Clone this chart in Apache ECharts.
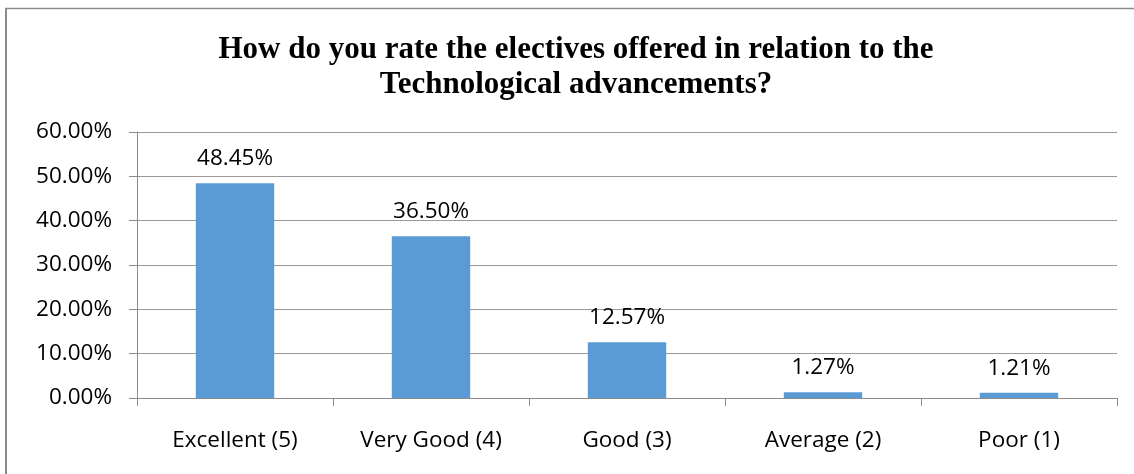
<!DOCTYPE html>
<html>
<head>
<meta charset="utf-8">
<script src="https://cdn.jsdelivr.net/npm/echarts@6/dist/echarts.min.js"></script>
<style>
html,body{margin:0;padding:0;background:#fff;}
#c{width:1134px;height:474px;}
</style>
</head>
<body>
<div id="c"></div>
<script>
const titleText = 'How do you rate the electives offered in relation to the\nTechnological advancements?';
const categories = ['Excellent (5)', 'Very Good (4)', 'Good (3)', 'Average (2)', 'Poor (1)'];
const values = [48.45, 36.50, 12.57, 1.27, 1.21];
const yTicks = [0, 10, 20, 30, 40, 50, 60];

const chart = echarts.init(document.getElementById('c'), null, {renderer: 'canvas'});
const sans = '"Open Sans", "Noto Sans", sans-serif';
chart.setOption({
  animation: false,
  backgroundColor: '#fff',
  title: {
    text: titleText,
    left: 576,
    textAlign: 'center',
    top: 32,
    padding: 0,
    textStyle: {
      fontFamily: '"Liberation Serif", "Times New Roman", serif',
      fontWeight: 'bold',
      fontSize: 31,
      lineHeight: 35,
      color: '#000'
    }
  },
  graphic: [
    {type: 'line', shape: {x1: 6, y1: 8, x2: 6, y2: 480}, style: {stroke: '#8c8c8c', lineWidth: 2}},
    {type: 'line', shape: {x1: 5, y1: 8.5, x2: 1140, y2: 8.5}, style: {stroke: '#8c8c8c', lineWidth: 1.5}}
  ],
  grid: {left: 137, right: 17, top: 132, bottom: 76, containLabel: false},
  xAxis: {
    type: 'category',
    data: categories,
    axisLine: {show: true, lineStyle: {color: '#8c8c8c', width: 1}},
    axisTick: {show: true, length: 8, alignWithLabel: false, lineStyle: {color: '#8c8c8c'}},
    axisLabel: {margin: 31, fontFamily: sans, fontSize: 22.5, color: '#000'},
    splitLine: {show: false}
  },
  yAxis: {
    type: 'value',
    min: yTicks[0],
    max: yTicks[yTicks.length - 1],
    interval: 10,
    axisLine: {show: true, lineStyle: {color: '#8c8c8c', width: 1}},
    axisTick: {show: true, length: 8, inside: false, lineStyle: {color: '#8c8c8c'}},
    axisLabel: {
      margin: 25, fontFamily: sans, fontSize: 22.5, color: '#000',
      formatter: v => v.toFixed(2) + '%'
    },
    splitLine: {show: true, lineStyle: {color: '#9a9a9a', width: 1}}
  },
  series: [{
    type: 'bar',
    data: values,
    barWidth: '40%',
    itemStyle: {color: '#5b9bd5'},
    label: {
      show: true,
      position: 'top',
      distance: 13,
      fontFamily: sans,
      fontSize: 22.5,
      color: '#000',
      formatter: p => p.value.toFixed(2) + '%'
    }
  }]
});
</script>
</body>
</html>
